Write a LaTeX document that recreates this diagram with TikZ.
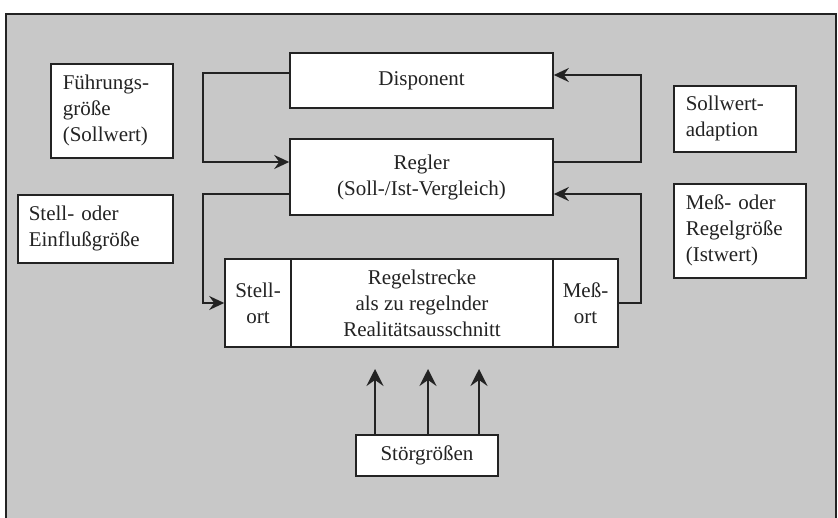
\documentclass[tikz,border=0pt]{standalone}
\usepackage{fontspec}
\setmainfont{Liberation Serif}
\usetikzlibrary{arrows.meta}
\definecolor{bg}{RGB}{200,200,200}
\definecolor{ink}{RGB}{35,35,35}
\begin{document}
\begin{tikzpicture}[x=1pt,y=-1pt,
  box/.style={draw=ink,line width=1.6pt,fill=white,text=ink,inner sep=0pt,
    font=\fontsize{21}{26}\selectfont},
  lbox/.style={box,align=left,anchor=north west},
  arr/.style={draw=ink,line width=1.9pt,-{Stealth[length=15pt,width=14pt,inset=5pt]}},
  uarr/.style={draw=ink,line width=1.9pt,-{Stealth[length=17pt,width=17pt,inset=6pt]}}]
\useasboundingbox (0,0) rectangle (838,518);
\fill[white] (0,0) rectangle (838,518);
\fill[bg] (6,14) rectangle (836,518);
\draw[ink,line width=1.4pt] (6,518) -- (6,14) -- (836,14) -- (836,518);

% main boxes
\node[box,minimum width=263pt,minimum height=55pt] (disp) at (421.5,80.5) {Disponent};
\node[box,minimum width=263pt,minimum height=76pt,align=center] (regler) at (421.5,177) {Regler\\(Soll-/Ist-Vergleich)};
\node[box,minimum width=66pt,minimum height=88pt,align=center] (stell) at (258,303) {Stell-\\ort};
\node[box,minimum width=262pt,minimum height=88pt,align=center] (strecke) at (422,303) {Regelstrecke\\als zu regelnder\\Realitätsausschnitt};
\node[box,minimum width=65pt,minimum height=88pt,align=center] (mess) at (585.5,303) {Meß-\\ort};
\node[box,minimum width=142pt,minimum height=41pt] (stoer) at (427,455.5) {Störgrößen};

% label boxes
\node[lbox,text width=98pt,minimum height=94pt,inner xsep=12pt] (fuehr) at (50,63) {Führungs-\\größe\\(Sollwert)};
\node[lbox,text width=133pt,minimum height=68pt,inner xsep=11pt] (stellg) at (17,194) {Stell- oder\\Einflußgröße};
\node[lbox,text width=98pt,minimum height=66pt,inner xsep=12pt] (adapt) at (673,85) {Sollwert-\\adaption};
\node[lbox,text width=108pt,minimum height=94pt,inner xsep=12pt] (messg) at (673,183) {Meß- oder\\Regelgröße\\(Istwert)};

% connectors
\draw[arr] (disp.west |- 0,73) -| (203,162) -- (regler.west |- 0,162);
\draw[arr] (regler.west |- 0,194) -| (203,303) -- (stell.west |- 0,303);
\draw[arr] (mess.east |- 0,303) -| (641,194) -- (regler.east |- 0,194);
\draw[arr] (regler.east |- 0,162) -| (641,75) -- (disp.east |- 0,75);

\draw[uarr] (stoer.north -| 375,0) -- (375,369);
\draw[uarr] (stoer.north -| 428,0) -- (428,369);
\draw[uarr] (stoer.north -| 479,0) -- (479,369);
\end{tikzpicture}
\end{document}
